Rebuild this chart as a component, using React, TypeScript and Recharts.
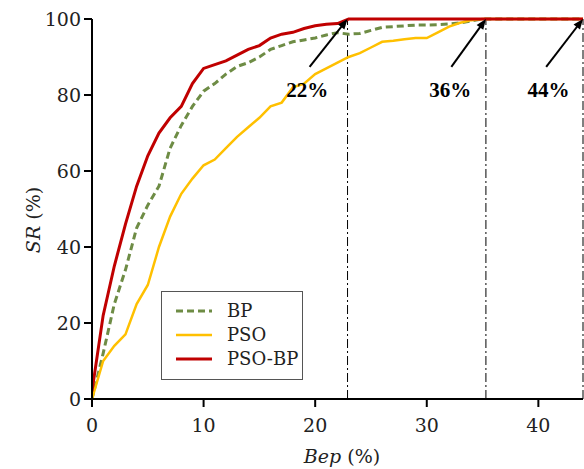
import { LineChart, Line, XAxis, YAxis, ReferenceLine, ReferenceDot, Label } from 'recharts';

const bep = [0, 1, 2, 3, 4, 5, 6, 7, 8, 9, 10, 11, 12, 13, 14, 15, 16, 17, 18, 19, 20, 21, 22, 23, 24, 25, 26, 27, 28, 29, 30, 31, 32, 33, 34, 35, 36, 37, 38, 39, 40, 41, 42, 43, 44];
const bpSR = [0, 12, 25, 34, 45, 51, 56, 66, 72, 77, 81, 83, 85.5, 87.5, 88.5, 90, 92, 93, 94, 94.5, 95, 95.8, 96.4, 96, 96.2, 97, 97.8, 98, 98.2, 98.4, 98.4, 98.5, 98.7, 99, 99.5, 100, 100, 100, 100, 100, 100, 100, 100, 100, 100];
const psoSR = [0, 10, 14, 17, 25, 30, 40, 48, 54, 58, 61.5, 63, 66, 69, 71.5, 74, 77, 78, 82, 83, 85.5, 87, 88.5, 90, 91, 92.5, 94, 94.3, 94.7, 95, 95, 96.5, 98, 99, 99.7, 100, 100, 100, 100, 100, 100, 100, 100, 100, 100];
const psoBpSR = [2, 22, 35, 46, 56, 64, 70, 74, 77, 83, 87, 88, 89, 90.5, 92, 93, 95, 96, 96.5, 97.5, 98.2, 98.6, 98.8, 100, 100, 100, 100, 100, 100, 100, 100, 100, 100, 100, 100, 100, 100, 100, 100, 100, 100, 100, 100, 100, 100];

const xTicks = [0, 10, 20, 30, 40];
const yTicks = [0, 20, 40, 60, 80, 100];

// points where each method reaches 100% SR
const markX = [22.9, 35.3, 44];
const markText = ['22%', '36%', '44%'];
const arrowFromX = [19.5, 32.2, 40.7];
const arrowFromY = 87.4;
const textX = [19.3, 32.1, 40.9];
const textY = 81.5;

const series = [
  { key: 'bp', name: 'BP', color: '#6E8C45', dash: '7 4', width: 3 },
  { key: 'pso', name: 'PSO', color: '#FFC000', dash: undefined, width: 2.5 },
  { key: 'psoBp', name: 'PSO-BP', color: '#C00000', dash: undefined, width: 3 },
];

const data = bep.map((x, i) => ({ bep: x, bp: bpSR[i], pso: psoSR[i], psoBp: psoBpSR[i] }));

const font = '"DejaVu Serif", serif';
const boldFont = '"Liberation Serif", serif';

function Arrow(props: any) {
  const { x1, y1, x2, y2 } = props;
  const ang = Math.atan2(y2 - y1, x2 - x1);
  const len = 11;
  const half = 0.38;
  const p1 = `${x2},${y2}`;
  const p2 = `${x2 - len * Math.cos(ang - half)},${y2 - len * Math.sin(ang - half)}`;
  const p3 = `${x2 - len * Math.cos(ang + half)},${y2 - len * Math.sin(ang + half)}`;
  return (
    <g>
      <line x1={x1} y1={y1} x2={x2 - 6 * Math.cos(ang)} y2={y2 - 6 * Math.sin(ang)} stroke="#000" strokeWidth={2} />
      <polygon points={`${p1} ${p2} ${p3}`} fill="#000" />
    </g>
  );
}

function LegendBox() {
  return (
    <div style={{ position: 'absolute', left: 161, top: 291, width: 140, height: 87, border: '1px solid #555', background: '#fff' }}>
      <svg width={140} height={87} style={{ display: 'block' }}>
        {series.map((s, i) => (
          <g key={s.key}>
            <line x1={14} x2={50} y1={19 + i * 24} y2={19 + i * 24} stroke={s.color} strokeWidth={s.width} strokeDasharray={s.dash} />
            <text x={65} y={19 + i * 24 + 6} fontFamily={font} fontSize={18} fill="#222">{s.name}</text>
          </g>
        ))}
      </svg>
    </div>
  );
}

export default function App() {
  return (
    <div style={{ position: 'absolute', left: 0, top: 0, width: 584, height: 469, background: '#fff' }}>
      <LineChart width={584} height={469} data={data} margin={{ top: 19, right: 1, bottom: 0, left: 0 }}>
        <XAxis
          xAxisId="top"
          orientation="top"
          type="number"
          domain={[0, 44]}
          height={0}
          tick={false}
          tickLine={false}
          axisLine={{ stroke: '#000', strokeWidth: 2 }}
        />
        <XAxis
          dataKey="bep"
          type="number"
          domain={[0, 44]}
          ticks={xTicks}
          allowDataOverflow
          axisLine={{ stroke: '#000', strokeWidth: 2 }}
          tickLine={{ stroke: '#000', strokeWidth: 2 }}
          tickSize={8}
          tickMargin={12}
          height={70}
          tick={{ fill: '#222', fontSize: 19, fontFamily: font }}
        >
          <Label
            content={() => (
              <text x={342} y={463} textAnchor="middle" fontFamily={font} fontSize={19} fill="#222">
                <tspan fontStyle="italic">Bep</tspan> (%)
              </text>
            )}
          />
        </XAxis>
        <YAxis
          type="number"
          domain={[0, 100]}
          ticks={yTicks}
          width={92}
          axisLine={{ stroke: '#000', strokeWidth: 2 }}
          tickLine={{ stroke: '#000', strokeWidth: 2 }}
          tickSize={8}
          tickMargin={3}
          tick={{ fill: '#222', fontSize: 19, fontFamily: font }}
        >
          <Label
            content={() => (
              <text x={40} y={220} textAnchor="middle" fontFamily={font} fontSize={19} fill="#222" transform="rotate(-90 40 220)">
                <tspan fontStyle="italic">SR</tspan> (%)
              </text>
            )}
          />
        </YAxis>
        {markX.map((x) => (
          <ReferenceLine key={x} segment={[{ x, y: 0 }, { x, y: 100 }]} stroke="#000" strokeWidth={1} strokeDasharray="9 3 2 3" />
        ))}
        {series.map((s) => (
          <Line
            key={s.key}
            type="linear"
            dataKey={s.key}
            name={s.name}
            stroke={s.color}
            strokeWidth={s.width}
            strokeDasharray={s.dash}
            dot={false}
            isAnimationActive={false}
          />
        ))}
        {markX.map((x, i) => (
          <ReferenceLine
            key={'a' + i}
            segment={[{ x: arrowFromX[i], y: arrowFromY }, { x: x, y: 100 }]}
            shape={(p: any) => <Arrow {...p} />}
          />
        ))}
        {markText.map((t, i) => (
          <ReferenceDot
            key={t}
            x={textX[i]}
            y={textY}
            r={0}
            fill="none"
            stroke="none"
            label={{ value: t, position: 'center', fontFamily: boldFont, fontSize: 21, fontWeight: 'bold', fill: '#000' }}
          />
        ))}
      </LineChart>
      <LegendBox />
    </div>
  );
}
